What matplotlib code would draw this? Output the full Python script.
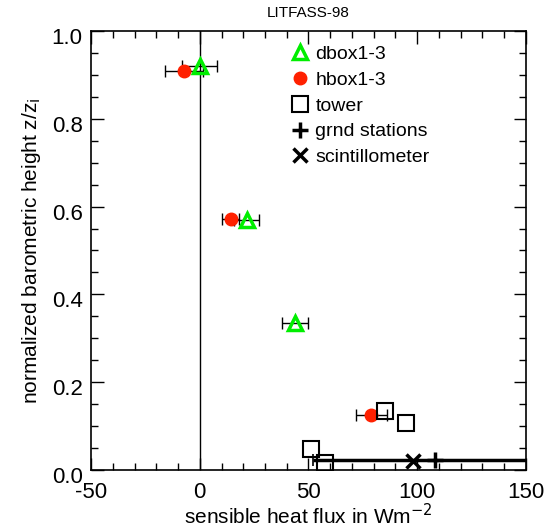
import numpy as np
import matplotlib.pyplot as plt
import matplotlib.transforms as mtransforms

plt.rcParams['font.family'] = ['Liberation Sans', 'DejaVu Sans']
plt.rcParams['axes.unicode_minus'] = False

# dbox1-3 (Dornier boxes)
dbox_x = [0.0, 21.6, 43.8]
dbox_z = [0.920, 0.569, 0.335]
dbox_err = [8.0, 5.8, 5.9]

# hbox1-3 (Helipod boxes)
hbox_x = [-7.2, 14.3, 78.9]
hbox_z = [0.910, 0.571, 0.125]
hbox_err = [8.7, 3.9, 7.0]

# tower
tower_x = [85.2, 94.8, 51.0, 57.6]
tower_z = [0.135, 0.106, 0.047, 0.016]

# ground stations and scintillometer
grnd_x = [108.2]
grnd_z = [0.022]
grnd_err = [56.0]
scint_x = [97.9]
scint_z = [0.020]

fig = plt.figure(figsize=(5.57, 5.31), dpi=100)
ax = fig.add_axes([0.1634, 0.1149, 0.7809, 0.8267])

ax.axvline(0, color='black', lw=1.0)

ax.errorbar(grnd_x, grnd_z, xerr=grnd_err, fmt='none', ecolor='black',
            elinewidth=2.5, capsize=4, capthick=1.2)
ax.errorbar(dbox_x, dbox_z, xerr=dbox_err, fmt='none', ecolor='black',
            elinewidth=1.0, capsize=4, capthick=1.0)
ax.errorbar(hbox_x, hbox_z, xerr=hbox_err, fmt='none', ecolor='black',
            elinewidth=1.0, capsize=4, capthick=1.0)

ax.plot(dbox_x, dbox_z, '^', ms=10, mfc='none', mec='#00ee00', mew=2.5,
        label='dbox1-3', zorder=4)
ax.plot(hbox_x, hbox_z, 'o', ms=9, color='#ff2000', mec='#ff2000',
        label='hbox1-3', zorder=3)
ax.plot(tower_x, tower_z, 's', ms=12, mfc='none', mec='black', mew=1.5,
        label='tower', zorder=4)
ax.plot(grnd_x, grnd_z, '+', ms=12, color='black', mew=2.5,
        label='grnd stations', zorder=4)
ax.plot(scint_x, scint_z, 'x', ms=10, color='black', mew=2.5,
        label='scintillometer', zorder=4)

ax.set_xlim(-50, 150)
ax.set_ylim(0, 1.0)
ax.set_xticks([-50, 0, 50, 100, 150])
ax.set_xticks(np.arange(-50, 151, 10), minor=True)
ax.set_yticks([0.0, 0.2, 0.4, 0.6, 0.8, 1.0])
ax.set_yticks(np.arange(0, 1.001, 0.05), minor=True)
ax.set_yticklabels(['0.0', '0.2', '0.4', '0.6', '0.8', '1.0'])
ax.tick_params(which='both', direction='in', top=True, right=True,
               labelsize=16, width=1)
ax.tick_params(which='major', length=9)
ax.tick_params(which='minor', length=5)
ax.tick_params(axis='x', which='major', pad=9)
ax.tick_params(axis='y', which='major', pad=6)
for lab in ax.get_yticklabels():
    lab.set_transform(lab.get_transform() +
                      mtransforms.ScaledTranslation(0, -5 / 100, fig.dpi_scale_trans))
for sp in ax.spines.values():
    sp.set_linewidth(1.2)

ax.set_xlabel('sensible heat flux in Wm$^{-2}$', fontsize=15, labelpad=0)
ax.set_ylabel('normalized barometric height z/z$_\\mathrm{i}$', fontsize=15, labelpad=6)
ax.set_title('LITFASS-98', fontsize=11, pad=10)

ax.legend(loc='upper left', bbox_to_anchor=(0.44, 0.985), frameon=False,
          handlelength=1.0, handletextpad=0.3, labelspacing=0.42,
          fontsize=14, borderaxespad=0)

fig.savefig('out.png', dpi=100)
